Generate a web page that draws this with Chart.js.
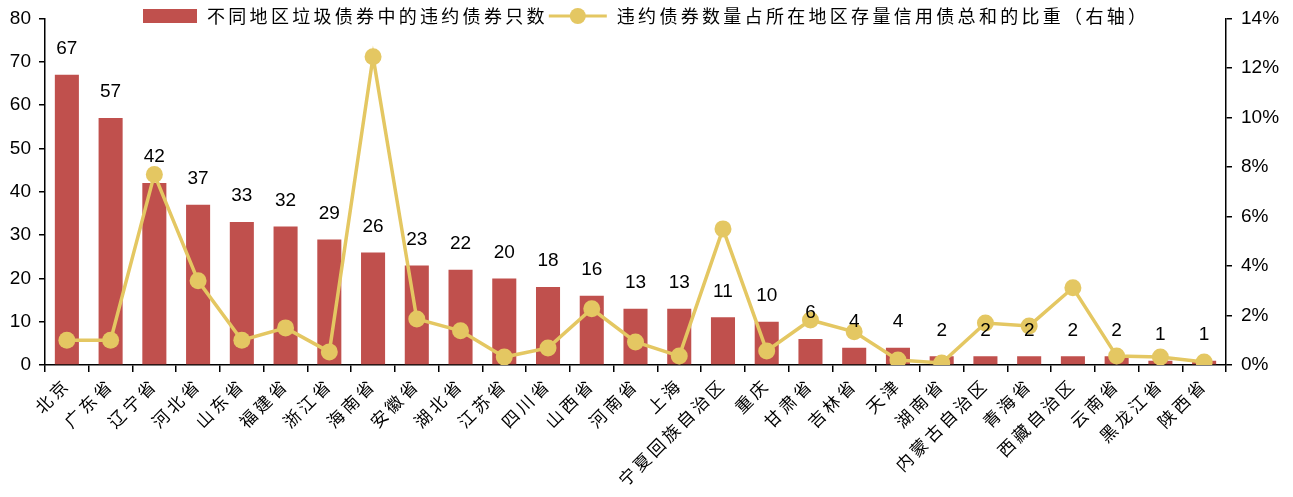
<!DOCTYPE html>
<html><head><meta charset="utf-8">
<script src="https://cdn.jsdelivr.net/npm/chart.js@4/dist/chart.umd.min.js"></script>
<style>html,body{margin:0;padding:0;background:#fff;overflow:hidden}</style>
</head><body>
<canvas id="c" width="1293" height="497" style="display:block;width:1293px;height:497px"></canvas>
<script>
const categories = ['北京','广东省','辽宁省','河北省','山东省','福建省','浙江省','海南省','安徽省','湖北省','江苏省','四川省','山西省','河南省','上海','宁夏回族自治区','重庆','甘肃省','吉林省','天津','湖南省','内蒙古自治区','青海省','西藏自治区','云南省','黑龙江省','陕西省'];
const defaultCounts = [67,57,42,37,33,32,29,26,23,22,20,18,16,13,13,11,10,6,4,4,2,2,2,2,2,1,1];
const defaultShare = [1.0,1.0,7.7,3.4,1.0,1.5,0.53,12.45,1.86,1.38,0.32,0.69,2.27,0.93,0.36,5.5,0.57,1.82,1.34,0.2,0.08,1.7,1.58,3.12,0.36,0.32,0.12];
const seriesNames = ['不同地区垃圾债券中的违约债券只数','违约债券数量占所在地区存量信用债总和的比重（右轴）'];
const leftAxis = {min:0, max:80, step:10};
const rightAxis = {min:0, max:14, step:2};

const RED = '#C0504D';
const YEL = '#E4C762';
const NUMFONT = '"Liberation Sans", Arial, sans-serif';
const CJKFONT = '"Noto Sans CJK SC", sans-serif';

const labelPlugin = {
  id: 'barLabels',
  afterDatasetsDraw(chart) {
    const ctx = chart.ctx;
    const meta = chart.getDatasetMeta(1);
    ctx.save();
    ctx.fillStyle = '#000';
    ctx.font = '19px ' + NUMFONT;
    ctx.textAlign = 'center';
    ctx.textBaseline = 'middle';
    meta.data.forEach((bar, i) => {
      ctx.fillText(String(chart.data.datasets[1].data[i]), bar.x, bar.y - 26);
    });
    ctx.restore();
  }
};

const legendPlugin = {
  id: 'customLegend',
  afterDraw(chart) {
    const ctx = chart.ctx;
    ctx.save();
    ctx.letterSpacing = '3.3px';
    ctx.font = '18px ' + CJKFONT;
    ctx.textBaseline = 'middle';
    ctx.textAlign = 'left';
    const y = 16;
    let x = 143;
    ctx.fillStyle = RED;
    ctx.fillRect(x, 9, 54, 14);
    x += 64;
    ctx.fillStyle = '#000';
    ctx.fillText(seriesNames[0], x, y);
    x += ctx.measureText(seriesNames[0]).width + 1;
    ctx.strokeStyle = YEL;
    ctx.lineWidth = 3;
    ctx.beginPath(); ctx.moveTo(x, y); ctx.lineTo(x + 58, y); ctx.stroke();
    ctx.fillStyle = YEL;
    ctx.beginPath(); ctx.arc(x + 29, y, 8, 0, Math.PI * 2); ctx.fill();
    x += 68;
    ctx.fillStyle = '#000';
    ctx.fillText(seriesNames[1], x, y);
    ctx.restore();
  }
};

const spacingPlugin = {
  id: 'xLabelSpacing',
  beforeDraw(chart) {
    const xs = chart.scales.x;
    if (xs && !xs._patched) {
      const orig = xs.drawLabels;
      xs.drawLabels = function(area) {
        const c = this.ctx;
        c.save();
        c.letterSpacing = '3.5px';
        orig.call(this, area);
        c.restore();
      };
      xs._patched = true;
    }
  }
};

new Chart(document.getElementById('c'), {
  data: {
    labels: categories,
    datasets: [
      {
        type: 'line', label: seriesNames[1], data: defaultShare, yAxisID: 'y1',
        borderColor: YEL, backgroundColor: YEL, borderWidth: 3.5,
        pointRadius: 8.5, pointBackgroundColor: YEL, pointBorderWidth: 0,
        tension: 0, order: 1
      },
      {
        type: 'bar', label: seriesNames[0], data: defaultCounts, yAxisID: 'y',
        backgroundColor: RED, barPercentage: 0.55, categoryPercentage: 1.0, order: 2
      }
    ]
  },
  options: {
    responsive: false,
    animation: false,
    devicePixelRatio: 1,
    layout: { padding: { top: 17, left: 0, right: 0, bottom: 0 } },
    plugins: { legend: { display: false }, tooltip: { enabled: false } },
    scales: {
      x: {
        offset: true,
        grid: { display: true, offset: true, drawOnChartArea: false, drawTicks: true, tickLength: 7, color: '#000', lineWidth: 1.5 },
        border: { display: true, color: '#000', width: 1.5 },
        ticks: { color: '#000', font: { family: CJKFONT, size: 17 }, minRotation: 45, maxRotation: 45, autoSkip: false, padding: 2 },
        afterFit(s) { s.height = 132; }
      },
      y: {
        position: 'left', min: leftAxis.min, max: leftAxis.max,
        grid: { display: true, drawOnChartArea: false, tickLength: 6, color: '#000', lineWidth: 1.5 },
        border: { display: true, color: '#000', width: 1.5 },
        ticks: { stepSize: leftAxis.step, color: '#000', font: { family: NUMFONT, size: 19, lineHeight: 1.0 }, padding: 8 },
        afterFit(s) { s.width = 45; }
      },
      y1: {
        position: 'right', min: rightAxis.min, max: rightAxis.max,
        grid: { display: true, drawOnChartArea: false, tickLength: 6, color: '#000', lineWidth: 1.5 },
        border: { display: true, color: '#000', width: 1.5 },
        ticks: { stepSize: rightAxis.step, color: '#000', font: { family: NUMFONT, size: 19, lineHeight: 1.0 }, padding: 9, callback: v => v + '%' },
        afterFit(s) { s.width = 67; }
      }
    }
  },
  plugins: [spacingPlugin, labelPlugin, legendPlugin]
});
</script>
</body></html>
